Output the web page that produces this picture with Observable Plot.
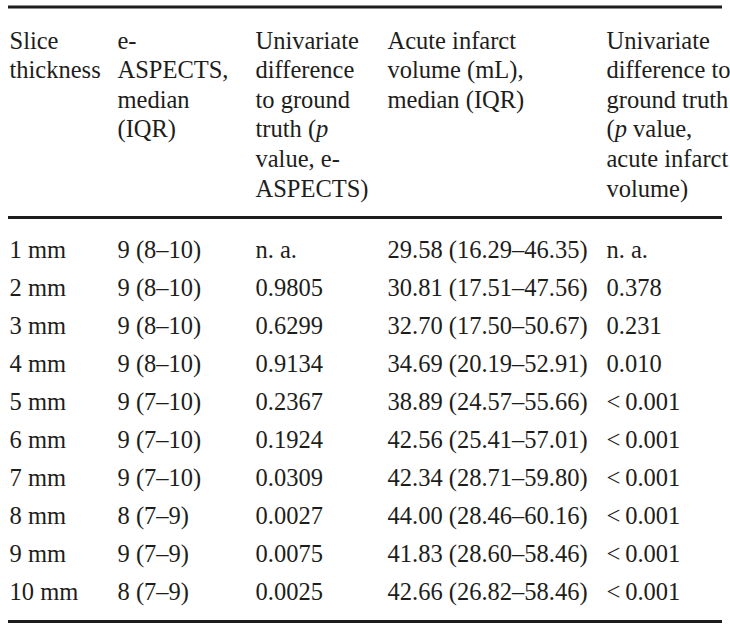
<!DOCTYPE html>
<html>
<head>
<meta charset="utf-8">
<script src="https://cdn.jsdelivr.net/npm/d3@7"></script>
<script src="https://cdn.jsdelivr.net/npm/@observablehq/plot@0.6"></script>
<style>
  html, body { margin: 0; padding: 0; background: #fff; }
</style>
</head>
<body>
<div id="chart"></div>
<script>
// ---- data ----
const sliceThickness = ["1 mm","2 mm","3 mm","4 mm","5 mm","6 mm","7 mm","8 mm","9 mm","10 mm"];
const eAspects = ["9 (8–10)","9 (8–10)","9 (8–10)","9 (8–10)","9 (7–10)","9 (7–10)","9 (7–10)","8 (7–9)","9 (7–9)","8 (7–9)"];
const pAspects = ["n. a.","0.9805","0.6299","0.9134","0.2367","0.1924","0.0309","0.0027","0.0075","0.0025"];
const infarctVolume = ["29.58 (16.29–46.35)","30.81 (17.51–47.56)","32.70 (17.50–50.67)","34.69 (20.19–52.91)","38.89 (24.57–55.66)","42.56 (25.41–57.01)","42.34 (28.71–59.80)","44.00 (28.46–60.16)","41.83 (28.60–58.46)","42.66 (26.82–58.46)"];
const pVolume = ["n. a.","0.378","0.231","0.010","<\u20090.001","<\u20090.001","<\u20090.001","<\u20090.001","<\u20090.001","<\u20090.001"];

const headerLines = [
  ["Slice","thickness"],
  ["e-","ASPECTS,","median","(IQR)"],
  ["Univariate","difference","to ground","truth (*p*","value, e-","ASPECTS)"],
  ["Acute infarct","volume (mL),","median (IQR)"],
  ["Univariate","difference to","ground truth","(*p* value,","acute infarct","volume)"]
];

// ---- layout ----
const colX = [9, 117, 255, 387, 606];
const headBase = 48, headStep = 29.6;
const rowBase = 257, rowStep = 38.1;
const ruleYs = [6.5, 217, 621];

const columns = [sliceThickness, eAspects, pAspects, infarctVolume, pVolume];

const headerCells = headerLines.flatMap((lines, j) =>
  lines.map((t, k) => ({x: colX[j], y: headBase + k * headStep, text: t})));
const bodyCells = sliceThickness.flatMap((_, i) =>
  columns.map((col, j) => ({x: colX[j], y: rowBase + i * rowStep, text: col[i]})));

const textOpts = {
  x: "x", y: "y", text: "text",
  textAnchor: "start", lineAnchor: "bottom",
  fill: "#1d1d1b", fontSize: 24.5
};

const chart = Plot.plot({
  width: 730, height: 628, margin: 0,
  x: {domain: [0, 730], range: [0, 730], axis: null},
  y: {domain: [0, 628], range: [0, 628], axis: null},
  style: {fontFamily: "'Liberation Serif', 'Times New Roman', serif", background: "#fff"},
  marks: [
    Plot.ruleY(ruleYs, {x1: 8, x2: 722, stroke: "#1d1d1b", strokeWidth: 3}),
    Plot.text(headerCells, textOpts),
    Plot.text(bodyCells, textOpts)
  ]
});

// italic "p" inside header labels marked as *p*
d3.select(chart).selectAll("text").each(function() {
  const el = d3.select(this);
  const t = el.text();
  if (t.includes("*")) {
    const parts = t.split("*");
    el.text(null);
    parts.forEach((p, idx) => {
      if (p === "") return;
      el.append("tspan").attr("font-style", idx % 2 === 1 ? "italic" : null).text(p);
    });
  }
});

document.getElementById("chart").appendChild(chart);
</script>
</body>
</html>
